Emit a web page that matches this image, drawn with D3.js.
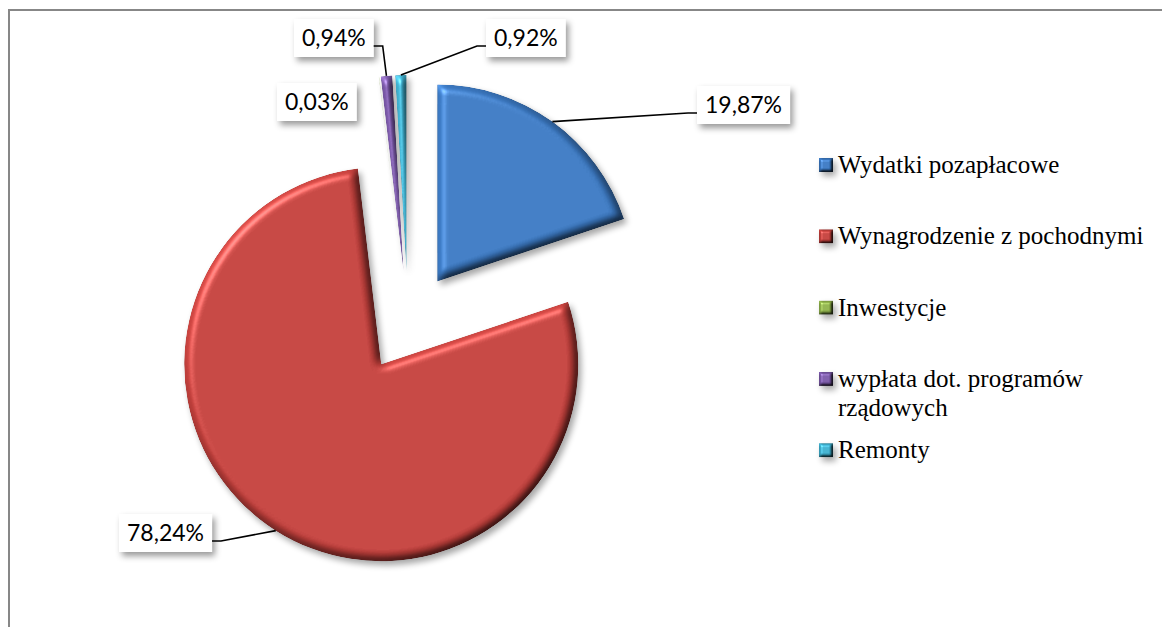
<!DOCTYPE html>
<html>
<head>
<meta charset="utf-8">
<script src="https://cdn.jsdelivr.net/npm/d3@7"></script>
<style>
  html, body { margin: 0; padding: 0; background: #fff; }
  svg { display: block; }
</style>
</head>
<body>
<div id="chart"></div>
<script>
// data
const categories = ["Wydatki pozapłacowe", "Wynagrodzenie z pochodnymi", "Inwestycje", "wypłata dot. programów rządowych", "Remonty"];
const values = [19.87, 78.24, 0.03, 0.94, 0.92];
const valueLabels = ["19,87%", "78,24%", "0,03%", "0,94%", "0,92%"];
const colors = ["#3b79c3", "#c4403c", "#8fb24a", "#7a58a8", "#3eb0cf"];

// label layout (text left x, baseline y, which side the leader attaches)
const labelPos = [
  { x: 705, y: 113, side: "left" },
  { x: 127, y: 541, side: "right" },
  { x: 285, y: 110, side: null },
  { x: 302, y: 46, side: "right" },
  { x: 494, y: 46, side: "left" }
];

const width = 1162, height = 627;
const cx = 408, cy = 322, radius = 197, explode = 50;

const svg = d3.select("#chart").append("svg")
  .attr("width", width)
  .attr("height", height);

const defs = svg.append("defs");

function bevelFilter(id, blur, scale) {
  const f = defs.append("filter").attr("id", id)
    .attr("color-interpolation-filters", "sRGB")
    .attr("filterUnits", "userSpaceOnUse")
    .attr("x", -2000).attr("y", -2000).attr("width", 4000).attr("height", 4000);
  f.append("feGaussianBlur").attr("in", "SourceAlpha").attr("stdDeviation", blur).attr("result", "b");
  const dl = f.append("feDiffuseLighting").attr("in", "b").attr("surfaceScale", scale)
    .attr("diffuseConstant", 1).attr("lighting-color", "#fff").attr("result", "d");
  dl.append("feDistantLight").attr("azimuth", 225).attr("elevation", 60);
  f.append("feComposite").attr("in", "SourceGraphic").attr("in2", "d")
    .attr("operator", "arithmetic").attr("k1", 1.1).attr("k2", 0).attr("k3", 0).attr("k4", 0).attr("result", "s");
  const sl = f.append("feSpecularLighting").attr("in", "b").attr("surfaceScale", scale)
    .attr("specularConstant", 0.45).attr("specularExponent", 30).attr("lighting-color", "#fff").attr("result", "sp");
  sl.append("feDistantLight").attr("azimuth", 225).attr("elevation", 50);
  f.append("feComposite").attr("in", "sp").attr("in2", "SourceAlpha").attr("operator", "in").attr("result", "spi");
  f.append("feComposite").attr("in", "s").attr("in2", "spi")
    .attr("operator", "arithmetic").attr("k1", 0).attr("k2", 1).attr("k3", 0.7).attr("k4", 0).attr("result", "lit");
  f.append("feComposite").attr("in", "lit").attr("in2", "SourceAlpha").attr("operator", "in").attr("result", "clip");
  f.append("feGaussianBlur").attr("in", "SourceAlpha").attr("stdDeviation", 3).attr("result", "sb");
  f.append("feOffset").attr("in", "sb").attr("dx", 3).attr("dy", 4).attr("result", "so");
  f.append("feComponentTransfer").attr("in", "so").attr("result", "sh")
    .append("feFuncA").attr("type", "linear").attr("slope", 0.35);
  const m = f.append("feMerge");
  m.append("feMergeNode").attr("in", "sh");
  m.append("feMergeNode").attr("in", "clip");
}
bevelFilter("bevel", 4, 5);
bevelFilter("bevelSmall", 1.5, 3);

const boxShadow = defs.append("filter").attr("id", "boxShadow")
  .attr("x", "-20%").attr("y", "-30%").attr("width", "150%").attr("height", "180%");
boxShadow.append("feDropShadow").attr("dx", 3).attr("dy", 4).attr("stdDeviation", 3)
  .attr("flood-color", "#000").attr("flood-opacity", 0.4);

// frame
svg.append("path")
  .attr("d", `M9,${height} V10 H${width}`)
  .attr("fill", "none")
  .attr("stroke", "#878787")
  .attr("stroke-width", 2);

const pie = d3.pie().sort(null).value(d => d)(values);
const arc = d3.arc().innerRadius(0).outerRadius(radius);

const offset = d => {
  const mid = (d.startAngle + d.endAngle) / 2;
  return [cx + explode * Math.sin(mid), cy - explode * Math.cos(mid)];
};

svg.append("g").selectAll("path")
  .data(pie)
  .join("path")
  .attr("transform", d => `translate(${offset(d)})`)
  .attr("d", arc)
  .attr("fill", (d, i) => colors[i])
  .attr("filter", "url(#bevel)");

// data labels
const labels = svg.append("g")
  .attr("font-family", "Lato, 'Open Sans', sans-serif")
  .attr("font-size", 23)
  .attr("fill", "#000");

pie.forEach((d, i) => {
  const p = labelPos[i];
  const g = labels.append("g");
  const rect = g.append("rect").attr("fill", "#fff").attr("filter", "url(#boxShadow)");
  const t = g.append("text").attr("x", p.x).attr("y", p.y).text(valueLabels[i]);
  const w = t.node().getComputedTextLength();
  const bx0 = p.x - 8, bx1 = p.x + w + 8;
  rect.attr("x", bx0).attr("y", p.y - 27).attr("width", bx1 - bx0).attr("height", 38);

  if (p.side) {
    const [ox, oy] = offset(d);
    const mid = (d.startAngle + d.endAngle) / 2;
    const sx = ox + radius * Math.sin(mid), sy = oy - radius * Math.cos(mid);
    const ex = p.side === "left" ? bx0 : bx1;
    const elbow = p.side === "left" ? ex - 9 : ex + 9;
    svg.append("polyline")
      .attr("points", [[sx, sy], [elbow, p.y], [ex, p.y]].map(q => q.join(",")).join(" "))
      .attr("fill", "none")
      .attr("stroke", "#000")
      .attr("stroke-width", 1.6);
  }
});

// legend
const legend = svg.append("g")
  .attr("font-family", "'Liberation Serif', 'Times New Roman', serif")
  .attr("font-size", 25)
  .attr("fill", "#000");

const rowY = i => 165 + i * 71.3;
const maxW = 320;

categories.forEach((name, i) => {
  const y = rowY(i);
  legend.append("rect")
    .attr("x", 819).attr("y", y - 7)
    .attr("width", 14).attr("height", 14)
    .attr("fill", colors[i])
    .attr("filter", "url(#bevelSmall)");
  const t = legend.append("text").attr("x", 838).attr("y", y + 8);
  // wrap long names
  const words = name.split(" ");
  let line = [], tspan = t.append("tspan").attr("x", 838).attr("dy", 0);
  words.forEach(wd => {
    line.push(wd);
    tspan.text(line.join(" "));
    if (tspan.node().getComputedTextLength() > maxW && line.length > 1) {
      line.pop();
      tspan.text(line.join(" "));
      line = [wd];
      tspan = t.append("tspan").attr("x", 838).attr("dy", 29).text(wd);
    }
  });
});
</script>
</body>
</html>
